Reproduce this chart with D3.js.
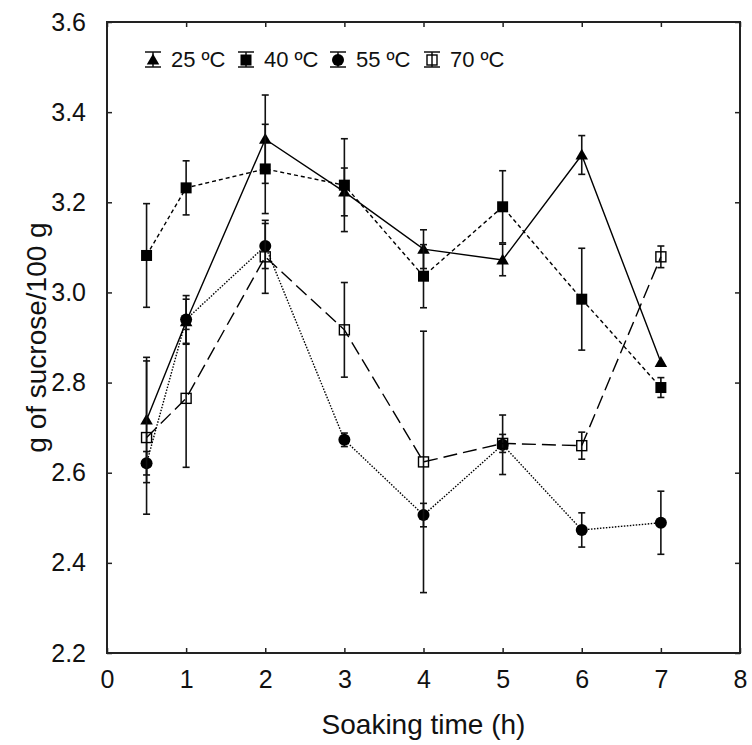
<!DOCTYPE html>
<html>
<head>
<meta charset="utf-8">
<script src="https://cdn.jsdelivr.net/npm/d3@7"></script>
<style>
  body { margin: 0; background: #fff; }
  text { font-family: "Liberation Sans", Arial, sans-serif; }
</style>
</head>
<body>
<div id="chart"></div>
<script>
// ======= data
var times = [0.5, 1, 2, 3, 4, 5, 6, 7];
var seriesNames = ["25 ºC", "40 ºC", "55 ºC", "70 ºC"];
var sucrose25 = [2.717, 2.935, 3.340, 3.223, 3.096, 3.072, 3.305, 2.845];
var err25     = [0.139, 0.05, 0.098, 0.053, 0.043, 0.035, 0.043, 0.0];
var sucrose40 = [3.082, 3.232, 3.274, 3.238, 3.036, 3.190, 2.985, 2.789];
var err40     = [0.115, 0.060, 0.099, 0.103, 0.070, 0.080, 0.113, 0.022];
var sucrose55 = [2.621, 2.940, 3.103, 2.673, 2.506, 2.662, 2.473, 2.489];
var err55     = [0.026, 0.053, 0.050, 0.015, 0.026, 0.066, 0.038, 0.070];
var sucrose70 = [2.678, 2.765, 3.079, 2.917, 2.624, 2.665, 2.660, 3.079];
var err70     = [0.170, 0.153, 0.081, 0.105, 0.290, 0.020, 0.030, 0.024];
var xTicks = [0, 1, 2, 3, 4, 5, 6, 7, 8];
var yTicks = [2.2, 2.4, 2.6, 2.8, 3.0, 3.2, 3.4, 3.6];

var W = 752, H = 745;
var padL = 107, padR = 740, padT = 22, padB = 653;

var svg = d3.select("#chart").append("svg")
  .attr("width", W)
  .attr("height", H);

var x = d3.scaleLinear().domain([0, 8]).range([padL, padR]);
var y = d3.scaleLinear().domain([2.2, 3.6]).range([padB, padT]);

// ======= axes, ticks pointing inward on all four sides
var axisColor = "#222";
function styleAxis(g) {
  g.select(".domain").remove();
  g.selectAll(".tick line").attr("stroke", axisColor).attr("stroke-width", 1.5);
  g.selectAll(".tick text").attr("fill", "#111").attr("font-size", "25px");
}

svg.append("g")
  .attr("transform", "translate(0," + padB + ")")
  .call(d3.axisBottom(x).tickValues(xTicks).tickFormat(d3.format("d"))
    .tickSizeInner(-5).tickSizeOuter(0).tickPadding(17))
  .call(styleAxis);

svg.append("g")
  .attr("transform", "translate(0," + padT + ")")
  .call(d3.axisTop(x).tickValues(xTicks).tickFormat("").tickSizeInner(-5).tickSizeOuter(0))
  .call(styleAxis);

svg.append("g")
  .attr("transform", "translate(" + padL + ",0)")
  .call(d3.axisLeft(y).tickValues(yTicks).tickFormat(d3.format(".1f"))
    .tickSizeInner(-5).tickSizeOuter(0).tickPadding(21))
  .call(styleAxis);

svg.append("g")
  .attr("transform", "translate(" + padR + ",0)")
  .call(d3.axisRight(y).tickValues(yTicks).tickFormat("").tickSizeInner(-5).tickSizeOuter(0))
  .call(styleAxis);

svg.append("rect")
  .attr("x", padL).attr("y", padT)
  .attr("width", padR - padL).attr("height", padB - padT)
  .attr("fill", "none")
  .attr("stroke", axisColor)
  .attr("stroke-width", 2);

// ======= axis titles
svg.append("text")
  .attr("x", (padL + padR) / 2)
  .attr("y", 734)
  .attr("text-anchor", "middle")
  .attr("font-size", "28px")
  .attr("fill", "#111")
  .text("Soaking time (h)");

svg.append("text")
  .attr("transform", "translate(46," + ((padT + padB) / 2) + ") rotate(-90)")
  .attr("text-anchor", "middle")
  .attr("font-size", "28px")
  .attr("fill", "#111")
  .text("g of sucrose/100 g");

// ======= series
var series = [
  { name: seriesNames[0], vals: sucrose25, errs: err25, dash: null, shape: "triangle" },
  { name: seriesNames[1], vals: sucrose40, errs: err40, dash: "4,3", shape: "square" },
  { name: seriesNames[2], vals: sucrose55, errs: err55, dash: "1.5,1.5", shape: "circle" },
  { name: seriesNames[3], vals: sucrose70, errs: err70, dash: "14,6", shape: "open" }
];

var line = d3.line()
  .x(function(d) { return x(d.t); })
  .y(function(d) { return y(d.v); });

function drawMarker(g, shape, cx, cy) {
  if (shape == "triangle") {
    g.append("path")
      .attr("d", d3.symbol().type(d3.symbolTriangle).size(68)())
      .attr("transform", "translate(" + cx + "," + (cy + 1) + ")")
      .attr("fill", "#000");
  } else if (shape == "square") {
    g.append("rect")
      .attr("x", cx - 5.5).attr("y", cy - 5.5)
      .attr("width", 11).attr("height", 11)
      .attr("fill", "#000");
  } else if (shape == "circle") {
    g.append("circle")
      .attr("cx", cx).attr("cy", cy).attr("r", 6)
      .attr("fill", "#000");
  } else {
    g.append("rect")
      .attr("x", cx - 5).attr("y", cy - 5)
      .attr("width", 10).attr("height", 10)
      .attr("fill", "none")
      .attr("stroke", "#000")
      .attr("stroke-width", 1.4);
  }
}

function drawErrBar(g, cx, yHi, yLo) {
  g.append("line").attr("x1", cx).attr("x2", cx).attr("y1", yHi).attr("y2", yLo);
  g.append("line").attr("x1", cx - 3.5).attr("x2", cx + 3.5).attr("y1", yHi).attr("y2", yHi);
  g.append("line").attr("x1", cx - 3.5).attr("x2", cx + 3.5).attr("y1", yLo).attr("y2", yLo);
}

series.forEach(function(s) {
  var pts = times.map(function(t, j) { return { t: t, v: s.vals[j], e: s.errs[j] }; });
  var g = svg.append("g");

  // error bars
  var eg = g.append("g").attr("stroke", "#111").attr("stroke-width", 1.6);
  pts.forEach(function(p) {
    if (p.e > 0) drawErrBar(eg, x(p.t), y(p.v + p.e), y(p.v - p.e));
  });

  g.append("path")
    .datum(pts)
    .attr("d", line)
    .attr("fill", "none")
    .attr("stroke", "#000")
    .attr("stroke-width", 1.4)
    .attr("stroke-dasharray", s.dash);

  pts.forEach(function(p) {
    drawMarker(g, s.shape, x(p.t), y(p.v));
  });
});

// ======= legend
var legendX = [153, 246, 338, 432];
var legendY = 60;
series.forEach(function(s, j) {
  var lg = svg.append("g");
  var eg = lg.append("g").attr("stroke", "#111").attr("stroke-width", 1.5);
  eg.append("line").attr("x1", legendX[j]).attr("x2", legendX[j]).attr("y1", legendY - 8).attr("y2", legendY + 7);
  eg.append("line").attr("x1", legendX[j] - 8).attr("x2", legendX[j] + 8).attr("y1", legendY - 8).attr("y2", legendY - 8);
  eg.append("line").attr("x1", legendX[j] - 8).attr("x2", legendX[j] + 8).attr("y1", legendY + 7).attr("y2", legendY + 7);
  drawMarker(lg, s.shape, legendX[j], legendY);
  lg.append("text")
    .attr("x", legendX[j] + 18)
    .attr("y", legendY + 7)
    .attr("font-size", "22px")
    .attr("fill", "#111")
    .text(s.name);
});
</script>
</body>
</html>
